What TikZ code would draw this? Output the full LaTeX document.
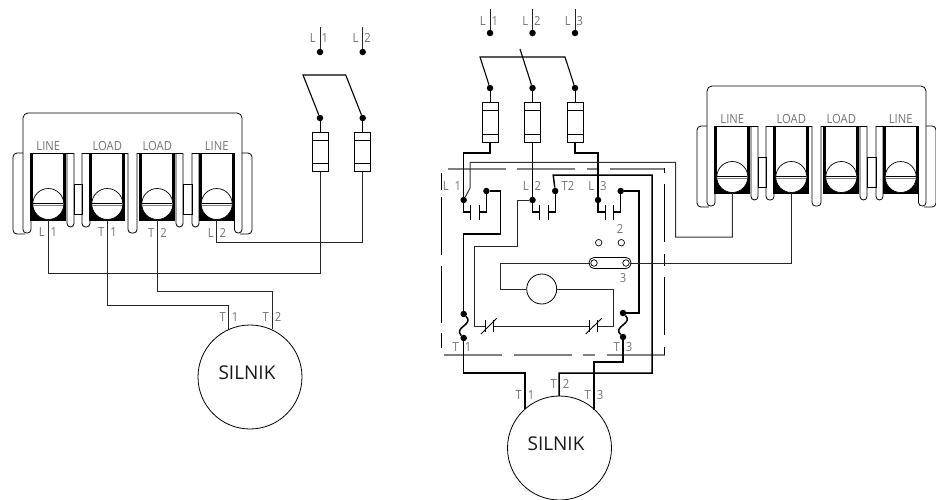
\documentclass[tikz,border=0pt]{standalone}
\usepackage{fontspec}
\setmainfont{Open Sans}
\newfontfamily\lblfont[FakeStretch=0.9]{Open Sans}
\usepackage{tikz}
\usetikzlibrary{calc}
\definecolor{labelgray}{rgb}{0.45,0.45,0.45}
\definecolor{framegray}{rgb}{0.5,0.5,0.5}
\newcommand{\gp}{\hskip 6pt}
\begin{document}
\begin{tikzpicture}[x=1pt,y=-1pt,
	wire/.style={line width=0.8pt,color=black!85},
	heavy/.style={line width=1.5pt},
	dot/.style={circle,fill,inner sep=0pt,minimum size=6.5pt},
	port/.style={circle,draw,line width=0.7pt,inner sep=0pt,minimum size=6.5pt},
	screw/.style={circle,draw,fill=white,line width=0.7pt,inner sep=0pt,minimum size=31pt},
	fuse/.style={draw,line width=1pt,inner sep=0pt,minimum width=16pt,minimum height=39.5pt,
		path picture={
			\draw ([yshift=-8pt]path picture bounding box.north west) -- ([yshift=-8pt]path picture bounding box.north east);
			\draw ([yshift=8pt]path picture bounding box.south west) -- ([yshift=8pt]path picture bounding box.south east);
		}},
	motor/.style={circle,draw,line width=0.8pt,inner sep=0pt,minimum size=104pt},
	bigtext/.style={font=\fontsize{19}{19}\selectfont,color=black!90},
	lbl/.style={font=\lblfont\fontsize{12.5}{12.5}\selectfont,color=labelgray,inner sep=0pt}]
	\useasboundingbox (0,0) rectangle (936,499);
	% terminal blocks
	\foreach \blk/\dx/\dy in {A/0/0,B/684/-27}
	{
		\begin{scope}[shift={(\dx,\dy)},name prefix=\blk-]
			\foreach \xa/\xb/\yb in {23/31/233,67/74/227,82/90/227,128/137/233,176/183/227,192/199/227,234.5/242/233}
			{
				\draw[line width=0.8pt,rounded corners=3.5pt] (\xa,153) -- (\xa,\yb) -- (\xb,\yb) -- (\xb,153);
			}
			\draw[line width=0.8pt,rounded corners=5pt] (23,153) -- (23,113) -- (242,113) -- (242,153);
			\draw[line width=0.8pt,rounded corners=4pt] (23,153) -- (13,153) -- (13,234) -- (25,234);
			\draw[line width=0.8pt,rounded corners=4pt] (242,153) -- (252,153) -- (252,234) -- (240,234);
			\draw[line width=0.8pt] (74,184) rectangle (82,214);
			\draw[line width=0.8pt] (183,184) rectangle (192,214);
			\draw[line width=0.8pt] (31,153) -- (74,153);
			\draw[line width=0.8pt] (82,153) -- (128,153);
			\draw[line width=0.8pt] (137,153) -- (183,153);
			\draw[line width=0.8pt] (192,153) -- (234.5,153);
			\foreach \pos/\txt [count=\i] in {48.3/LINE,107.3/LOAD,157.3/LOAD,216.7/LINE}
			{
				\fill (\pos-18,153) rectangle (\pos-15,221);
				\fill (\pos+15,153) rectangle (\pos+18,221);
				\fill (\pos-18,204) rectangle (\pos+18,221);
				\node[screw] (scr\i) at (\pos,204) {};
				\draw[line width=0.8pt] (\pos-15,203.4) -- (\pos+15,203.4);
				\draw[line width=0.5pt,color=framegray] (\pos-15,205.4) -- (\pos+15,205.4);
				\node[lbl] (name\i) at (\pos,146.5) {\txt};
			}
		\end{scope}
	}
	\node[lbl] (labL1) at (48,232.5) {L\gp 1};
	\node[lbl] (labT1) at (107.5,232.5) {T\gp 1};
	\node[lbl] (labT2) at (157.5,232.5) {T\gp 2};
	\node[lbl] (labL2) at (217,232.5) {L\gp 2};
	% single phase side
	\foreach \pos/\num in {320/1,362.7/2}
	{
		\coordinate (srcA\num) at (\pos,27);
		\node[dot] (supA\num) at (\pos,52) {};
		\node[dot] (swA\num) at (\pos,118) {};
		\node[fuse] (fuseA\num) at (\pos,152) {};
		\node[lbl] (labA\num) at (\pos-1,38) {L\gp \num};
		\draw[wire] (srcA\num) -- (supA\num);
		\draw[line width=1pt] (swA\num) -- (fuseA\num);
	}
	\coordinate (barA1) at (303,75);
	\coordinate (barA2) at (345.7,75);
	\draw[line width=1.1pt] (swA1) -- (barA1) -- (barA2) -- (swA2);
	\coordinate (cnrA1) at (320,273);
	\coordinate (cnrA2) at (216.7,242);
	\coordinate (cnrA3) at (228,305);
	\coordinate (cnrA4) at (272,291);
	\coordinate (inA1) at (228,329);
	\coordinate (inA2) at (272,329);
	\draw[wire] (A-scr1) |- (cnrA1) -- (fuseA1);
	\draw[wire] (fuseA2) |- (cnrA2) -- (A-scr4);
	\draw[wire] (A-scr2) |- (cnrA3) -- (inA1);
	\draw[wire] (A-scr3) |- (cnrA4) -- (inA2);
	\node[motor] (motorA) at (250,377) {};
	\node[bigtext] (silnikA) at (247,373) {SILNIK};
	\node[lbl] (labMA1) at (229,317) {T\gp 1};
	\node[lbl] (labMA2) at (272,317) {T\gp 2};
	% three phase side
	\foreach \pos/\num in {490/1,532.5/2,575/3}
	{
		\coordinate (srcB\num) at (\pos,9);
		\node[dot] (supB\num) at (\pos,33) {};
		\node[dot] (swB\num) at (\pos,88) {};
		\node[fuse] (fuseB\num) at (\pos,122.5) {};
		\node[lbl] (labB\num) at (\pos-1,21) {L\gp \num};
		\draw[wire] (srcB\num) -- (supB\num);
		\draw[line width=1pt] (swB\num) -- (fuseB\num);
	}
	\coordinate (barB1) at (480,57);
	\coordinate (barB2) at (565,57);
	\coordinate (barB3) at (520,49);
	\draw[line width=1.1pt] (swB1) -- (barB1) -- (barB2) -- (swB3);
	\draw[line width=1.1pt] (barB3) -- (swB2);
	% guard frame
	\foreach \xa/\xb in {448/506,517/575,587/598,610/664.5}
	{
		\draw[line width=1.3pt,color=framegray] (\xa,169) -- (\xb,169);
	}
	\foreach \xa/\xb in {444/502,514/572,583/595,607/664.5}
	{
		\draw[line width=1.3pt,color=framegray] (\xa,355) -- (\xb,355);
	}
	\foreach \ya/\yb in {173/190,197/255,266/323,333/348}
	{
		\draw[line width=0.9pt] (441,\ya) -- (441,\yb);
	}
	\foreach \ya/\yb in {168/173,184/242,254/266,277/335,347/355}
	{
		\draw[line width=0.9pt] (664.3,\ya) -- (664.3,\yb);
	}
	% contactor
	\foreach \pos/\num/\ytop in {463.7/1/191,532.5/2/191,598/3/191}
	{
		\node[dot] (ctA\num) at (\pos,200) {};
		\node[dot] (ctB\num) at (\pos+22.7,\ytop) {};
		\coordinate (plA\num) at (\pos+7,212);
		\coordinate (plB\num) at (\pos+15.5,212);
		\draw[line width=1.2pt] (ctA\num) |- (plA\num);
		\draw[line width=1.2pt] (ctB\num) |- (plB\num);
		\draw[line width=1pt] (\pos+7,205) -- (\pos+7,220);
		\draw[line width=1pt] (\pos+15.5,205) -- (\pos+15.5,220);
	}
	\coordinate (cnrB1) at (463.7,153);
	\coordinate (cnrB2) at (598,153);
	\draw[heavy] (fuseB1) |- (cnrB1) -- (ctA1);
	\draw[heavy] (fuseB2) -- (ctA2);
	\draw[heavy] (fuseB3) |- (cnrB2) -- (ctA3);
	% overload
	\node[dot] (olA1) at (463.7,314) {};
	\node[dot] (olB1) at (463.7,338) {};
	\node[dot] (olA3) at (623,313) {};
	\node[dot] (olB3) at (623,337) {};
	\foreach \num in {1,3}
	{
		\draw[heavy] (olA\num) .. controls +(6,6) and +(4,-3) .. ($(olA\num)!.5!(olB\num)$) .. controls +(-4,3) and +(-6,-6) .. (olB\num);
	}
	\coordinate (cnrC1) at (500.7,191);
	\coordinate (cnrC2) at (500.7,234);
	\coordinate (cnrC3) at (463.7,234);
	\draw[heavy] (ctB1) -- (cnrC1) -- (cnrC2) -- (cnrC3) -- (olA1);
	\coordinate (cnrD1) at (639,313);
	\coordinate (cnrD2) at (639,191);
	\draw[heavy] (olA3) -- (cnrD1) -- (cnrD2) -- (ctB3);
	\coordinate (cnrE1) at (553.2,175);
	\coordinate (cnrE2) at (652,175);
	\coordinate (cnrE3) at (652,373);
	\coordinate (cnrE4) at (559,373);
	\coordinate (inB2) at (559,396);
	\draw[heavy] (ctB2) -- (cnrE1) -- (cnrE2) -- (cnrE3) -- (cnrE4) -- (inB2);
	\coordinate (cnrF1) at (525,373);
	\coordinate (cnrF2) at (463.7,373);
	\coordinate (inB1) at (525,409);
	\draw[heavy] (olB1) -- (cnrF2) -- (cnrF1) -- (inB1);
	\coordinate (cnrG1) at (623,362);
	\coordinate (cnrG2) at (594,362);
	\coordinate (inB3) at (594,410);
	\draw[heavy] (olB3) -- (cnrG1) -- (cnrG2) -- (inB3);
	% coil and auxiliary contacts
	\node[circle,draw,line width=0.8pt,inner sep=0pt,minimum size=30pt] (coil) at (541.7,289) {};
	\coordinate (ringL) at (594,263);
	\coordinate (ringR) at (626,263);
	\draw[line width=0.8pt,rounded corners=5pt] (589,257.5) rectangle (631,268.5);
	\node[port] (ringA) at (ringL) {};
	\node[port] (ringB) at (ringR) {};
	\coordinate (cnrH1) at (500.7,263);
	\coordinate (cnrH2) at (500.7,289);
	\draw[wire] (coil) -- (cnrH2) -- (cnrH1) -- (ringA);
	\coordinate (nc1) at (485,326);
	\coordinate (nc2) at (493,326);
	\coordinate (nc3) at (589,326);
	\coordinate (nc4) at (597.7,326);
	\coordinate (cnrI1) at (613,326);
	\coordinate (cnrI2) at (613,289);
	\draw[wire] (coil) -- (cnrI2) -- (cnrI1) -- (nc4);
	\draw[wire] (nc2) -- (nc3);
	\foreach \num/\pos in {1/485,2/493,3/589,4/597.7}
	{
		\draw[line width=0.9pt] (\pos,320) -- (\pos,332);
	}
	\draw[line width=0.9pt] (481,334) -- (496.7,318.3);
	\draw[line width=0.9pt] (585.7,334) -- (601.7,318.3);
	\coordinate (cnrJ1) at (517,200);
	\coordinate (cnrJ2) at (517,246);
	\coordinate (cnrJ3) at (474,246);
	\coordinate (cnrJ4) at (474,326);
	\draw[line width=1pt,color=black!85] (ctA2) -- (cnrJ1) -- (cnrJ2) -- (cnrJ3) -- (cnrJ4) -- (nc1);
	\coordinate (cnrK1) at (470,188);
	\coordinate (cnrK2) at (470,162.3);
	\coordinate (cnrK3) at (675.7,162.3);
	\coordinate (cnrK4) at (675.7,237);
	\coordinate (cnrK5) at (732.3,237);
	\draw[line width=1pt,color=black!80] (ctA1) -- (cnrK1) -- (cnrK2) -- (cnrK3) -- (cnrK4) -- (cnrK5) -- (B-scr1);
	\coordinate (cnrL1) at (791.3,263);
	\draw[wire] (ringB) -- (cnrL1) -- (B-scr2);
	\node[port] (portA) at (598.7,242.7) {};
	\node[port] (portB) at (621.3,242.7) {};
	% motor
	\node[motor] (motorB) at (559.5,448) {};
	\node[bigtext] (silnikB) at (556,444) {SILNIK};
	% labels
	\node[lbl] (labC1) at (452,185.7) {L\gp 1};
	\node[lbl] (labC2) at (532,185.7) {L\gp 2};
	\node[lbl] (labC3) at (568,185.7) {T2};
	\node[lbl] (labC4) at (597.5,185.7) {L\gp 3};
	\node[lbl] (labP2) at (620,228.7) {2};
	\node[lbl] (labP3) at (623,278) {3};
	\node[lbl] (labD1) at (462,347) {T\gp 1};
	\node[lbl] (labD3) at (623,347) {T\gp 3};
	\node[lbl] (labMB1) at (525,395) {T\gp 1};
	\node[lbl] (labMB2) at (560,384) {T\gp 2};
	\node[lbl] (labMB3) at (594,395) {T\gp 3};
\end{tikzpicture}
\end{document}
